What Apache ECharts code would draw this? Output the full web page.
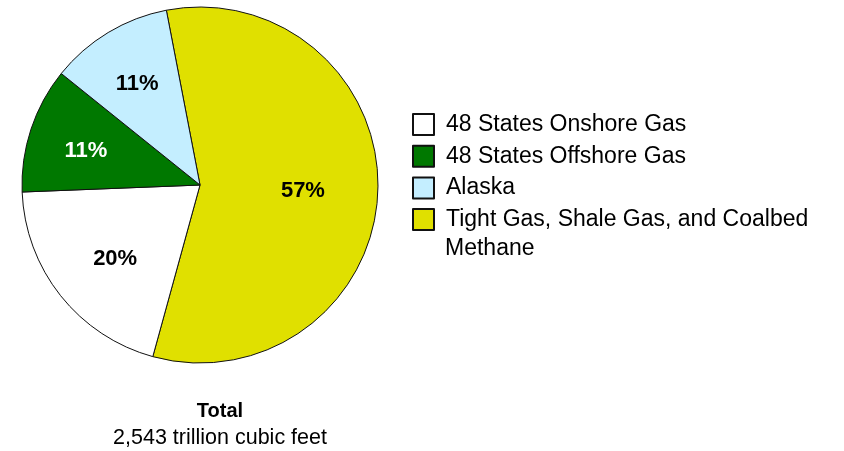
<!DOCTYPE html>
<html>
<head>
<meta charset="utf-8">
<script src="https://cdn.jsdelivr.net/npm/echarts@6/dist/echarts.min.js"></script>
<style>html,body{margin:0;padding:0;background:#fff}#c{width:844px;height:451px}</style>
</head>
<body>
<div id="c"></div>
<script>
const categories = ['Tight Gas, Shale Gas, and Coalbed Methane', '48 States Onshore Gas', '48 States Offshore Gas', 'Alaska'];
const shares = [57.3, 20.1, 11.4, 11.2];
const colors = ['#E0E000', '#FFFFFF', '#007800', '#C4EEFF'];
const labelColors = ['#000', '#000', '#fff', '#000'];
const legendOrder = ['48 States Onshore Gas', '48 States Offshore Gas', 'Alaska', 'Tight Gas, Shale Gas, and Coalbed Methane'];
const totalTitle = 'Total';
const totalSub = '2,543 trillion cubic feet';

const FONT = '"Liberation Sans", Arial, sans-serif';
// small per-label nudges (px) to match the original label placement
const labelNudge = [[-13, 1], [6, 2], [-4, 2], [-3, -2]];

const data = categories.map((n, i) => ({
  name: n, value: shares[i],
  itemStyle: { color: colors[i] },
  label: { color: labelColors[i] }
}));

const chart = echarts.init(document.getElementById('c'), null, { renderer: 'canvas' });
chart.setOption({
  animation: false,
  backgroundColor: '#fff',
  title: {
    text: totalTitle, subtext: totalSub,
    left: 220, top: 401, textAlign: 'center', itemGap: 6, padding: 0,
    textStyle: { fontFamily: FONT, fontSize: 20, fontWeight: 'bold', color: '#000', lineHeight: 20 },
    subtextStyle: { fontFamily: FONT, fontSize: 21.5, color: '#000', lineHeight: 22 }
  },
  legend: {
    orient: 'vertical', left: 412, top: 113, padding: 0,
    data: legendOrder,
    itemWidth: 21, itemHeight: 21, itemGap: 8.7,
    icon: 'rect',
    selectedMode: false,
    formatter: n => n === 'Tight Gas, Shale Gas, and Coalbed Methane' ? 'Tight Gas, Shale Gas, and Coalbed' : n,
    textStyle: { fontFamily: FONT, fontSize: 23, color: '#000', lineHeight: 23, padding: [0, 0, 0, 7] }
  },
  graphic: [{
    type: 'text', left: 445, top: 237,
    style: { text: 'Methane', fontFamily: FONT, fontSize: 23, fill: '#000' }
  }],
  series: [{
    type: 'pie',
    center: [200, 185], radius: 178,
    startAngle: 100.9, clockwise: true,
    avoidLabelOverlap: false,
    itemStyle: { borderColor: '#111', borderWidth: 1 },
    label: { show: false },
    labelLine: { show: false },
    data: data
  }, {
    type: 'pie',
    center: [200, 185], radius: [48, 178],
    startAngle: 100.9, clockwise: true,
    silent: true,
    avoidLabelOverlap: false,
    itemStyle: { color: 'rgba(0,0,0,0)', borderWidth: 0 },
    label: {
      show: true, position: 'inside',
      fontFamily: FONT, fontSize: 22, fontWeight: 'bold',
      formatter: p => Math.round(p.value) + '%'
    },
    labelLayout: p => ({ dx: labelNudge[p.dataIndex][0], dy: labelNudge[p.dataIndex][1] }),
    labelLine: { show: false },
    data: data.map(d => ({ name: d.name, value: d.value, label: d.label, itemStyle: { color: 'rgba(0,0,0,0)' } }))
  }]
});
</script>
</body>
</html>
